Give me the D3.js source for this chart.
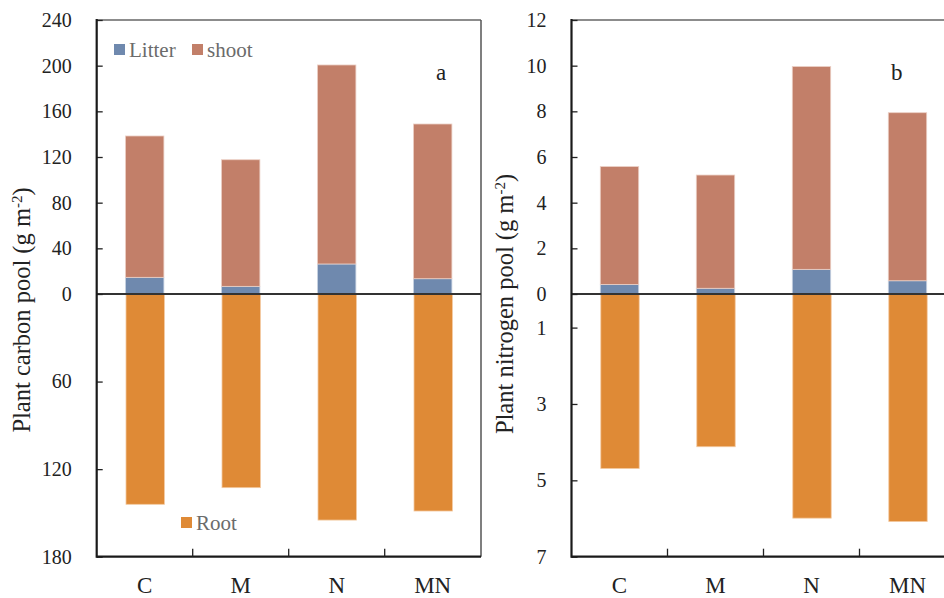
<!DOCTYPE html>
<html><head><meta charset="utf-8">
<script src="https://cdn.jsdelivr.net/npm/d3@7/dist/d3.min.js"></script>
<style>
html,body{margin:0;padding:0;background:#fff;}
svg{display:block;}
text{font-family:"Liberation Serif","Times New Roman",serif !important;}
</style></head>
<body><svg id="chart" width="944" height="598"></svg>
<script>
const categories = ["C", "M", "N", "MN"];
const carbonLitter = [14.6, 6.7, 26.3, 13.4];
const carbonShoot = [123.8, 110.9, 174.3, 135.5];
const carbonRoot = [144.1, 132.7, 154.9, 148.7];
const nitrogenLitter = [0.42, 0.25, 1.08, 0.58];
const nitrogenShoot = [5.16, 4.96, 8.88, 7.36];
const nitrogenRoot = [4.69, 4.12, 5.99, 6.08];
const carbonTopTicks = [0, 40, 80, 120, 160, 200, 240];
const carbonBottomTicks = [60, 120, 180];
const nitrogenTopTicks = [0, 2, 4, 6, 8, 10, 12];
const nitrogenBottomTicks = [1, 3, 5, 7];
const seriesNames = ["Litter", "shoot", "Root"];

const FONT = "Liberation Serif, Times New Roman, serif";
const colors = {Litter: "#6F89AE", shoot: "#C27F69", Root: "#DF8A36"};
const svg = d3.select("#chart").attr("font-family", FONT);

const yTop = 20, yZero = 294, yBottom = 556.7;

function panel(opt) {
  const g = svg.append("g");
  const x = d3.scaleBand().domain(categories)
    .range([opt.x0, opt.x0 + 384]).paddingInner(0.6).paddingOuter(0.3);
  const yUp = d3.scaleLinear().domain([0, opt.topMax]).range([yZero, yTop]);
  const yDown = d3.scaleLinear().domain(opt.downDomain).range([yZero, yBottom]);

  const rows = categories.map((c, i) => ({c, litter: opt.litter[i], shoot: opt.shoot[i], root: opt.root[i]}));

  g.selectAll(".root").data(rows).join("rect")
    .attr("x", d => x(d.c) + 0.5).attr("width", x.bandwidth())
    .attr("y", yZero).attr("height", d => yDown(d.root) - yZero)
    .attr("fill", colors.Root).attr("stroke", "#F3C9A0").attr("stroke-width", 0.8);
  g.selectAll(".lit").data(rows).join("rect")
    .attr("x", d => x(d.c)).attr("width", x.bandwidth())
    .attr("y", d => yUp(d.litter)).attr("height", d => yZero - yUp(d.litter))
    .attr("fill", colors.Litter).attr("stroke", "#C9D3E2").attr("stroke-width", 0.8);
  g.selectAll(".sh").data(rows).join("rect")
    .attr("x", d => x(d.c)).attr("width", x.bandwidth())
    .attr("y", d => yUp(d.litter + d.shoot)).attr("height", d => yUp(d.litter) - yUp(d.litter + d.shoot))
    .attr("fill", colors.shoot).attr("stroke", "#EBCFC5").attr("stroke-width", 0.8);

  const xL = opt.x0, xR = opt.x1;
  g.append("line").attr("x1", xL).attr("x2", xR).attr("y1", yTop).attr("y2", yTop)
    .attr("stroke", "#666").attr("stroke-width", 1.5);
  if (opt.rightBorder) g.append("line").attr("x1", xR).attr("x2", xR).attr("y1", yTop).attr("y2", yBottom)
    .attr("stroke", "#555").attr("stroke-width", 1.5);
  g.append("line").attr("x1", xL).attr("x2", xR).attr("y1", yZero).attr("y2", yZero)
    .attr("stroke", "#333").attr("stroke-width", 2);

  const fmt = d3.format("d");
  const ax1 = g.append("g").attr("transform", `translate(${xL},0)`)
    .call(d3.axisLeft(yUp).tickValues(opt.topTicks).tickFormat(fmt).tickSizeInner(-6).tickSizeOuter(0).tickPadding(25));
  const ax2 = g.append("g").attr("transform", `translate(${xL},0)`)
    .call(d3.axisLeft(yDown).tickValues(opt.bottomTicks).tickFormat(fmt).tickSizeInner(-6).tickSizeOuter(0).tickPadding(25));
  [ax1, ax2].forEach(a => {
    a.attr("font-family", FONT).attr("font-size", 20);
    a.select(".domain").remove();
    a.selectAll(".tick line").attr("stroke", "#222").attr("stroke-width", 1.3);
    a.selectAll(".tick text").attr("fill", "#222");
  });
  g.append("line").attr("x1", xL).attr("x2", xL).attr("y1", yTop - 1).attr("y2", yBottom + 1)
    .attr("stroke", "#1a1a1a").attr("stroke-width", 2.2);

  const axX = g.append("g").attr("transform", `translate(0,${yBottom})`)
    .call(d3.axisBottom(x).tickSize(0).tickPadding(20));
  axX.attr("font-family", FONT).attr("font-size", 23);
  axX.select(".domain").remove();
  axX.selectAll(".tick text").attr("fill", "#222");
  g.append("line").attr("x1", xL).attr("x2", xR).attr("y1", yBottom).attr("y2", yBottom)
    .attr("stroke", "#1a1a1a").attr("stroke-width", 2.2);
  g.selectAll(".sep").data(categories.slice(1)).join("line")
    .attr("x1", d => x(d) - x.step() * x.paddingInner() / 2)
    .attr("x2", d => x(d) - x.step() * x.paddingInner() / 2)
    .attr("y1", yBottom).attr("y2", yBottom - 8)
    .attr("stroke", "#222").attr("stroke-width", 1.3);

  const t = g.append("text")
    .attr("transform", `translate(${opt.titleX},${opt.titleY}) rotate(-90)`)
    .attr("text-anchor", "middle").attr("fill", "#222").attr("font-size", 24.5);
  t.append("tspan").text(opt.title + " (g m");
  t.append("tspan").attr("baseline-shift", "super").attr("font-size", 15).text("-2");
  t.append("tspan").text(")");

  g.append("text").attr("x", opt.letterX).attr("y", 80).attr("fill", "#222")
    .attr("font-size", 23).text(opt.letter);
  return g;
}

panel({x0: 96.7, x1: 481, topMax: 240, downDomain: [0, 180], rightBorder: true,
  litter: carbonLitter, shoot: carbonShoot, root: carbonRoot,
  topTicks: carbonTopTicks, bottomTicks: carbonBottomTicks,
  title: "Plant carbon pool", titleX: 30, titleY: 310, letter: "a", letterX: 436});
panel({x0: 571.5, x1: 944, topMax: 12, downDomain: [0.12, 7], rightBorder: false,
  litter: nitrogenLitter, shoot: nitrogenShoot, root: nitrogenRoot,
  topTicks: nitrogenTopTicks, bottomTicks: nitrogenBottomTicks,
  title: "Plant nitrogen pool", titleX: 513, titleY: 304, letter: "b", letterX: 891});

const legendItems = [
  {name: seriesNames[0], x: 114, y: 44},
  {name: seriesNames[1], x: 192, y: 44},
  {name: seriesNames[2], x: 181, y: 517}
];
const lg = svg.append("g");
lg.selectAll("rect").data(legendItems).join("rect")
  .attr("x", d => d.x).attr("y", d => d.y).attr("width", 11).attr("height", 11)
  .attr("fill", d => colors[d.name]);
lg.selectAll("text").data(legendItems).join("text")
  .attr("x", d => d.x + 15).attr("y", d => d.y + 13)
  .attr("fill", "#6b6b6b").attr("font-size", 21).text(d => d.name);
</script></body></html>
